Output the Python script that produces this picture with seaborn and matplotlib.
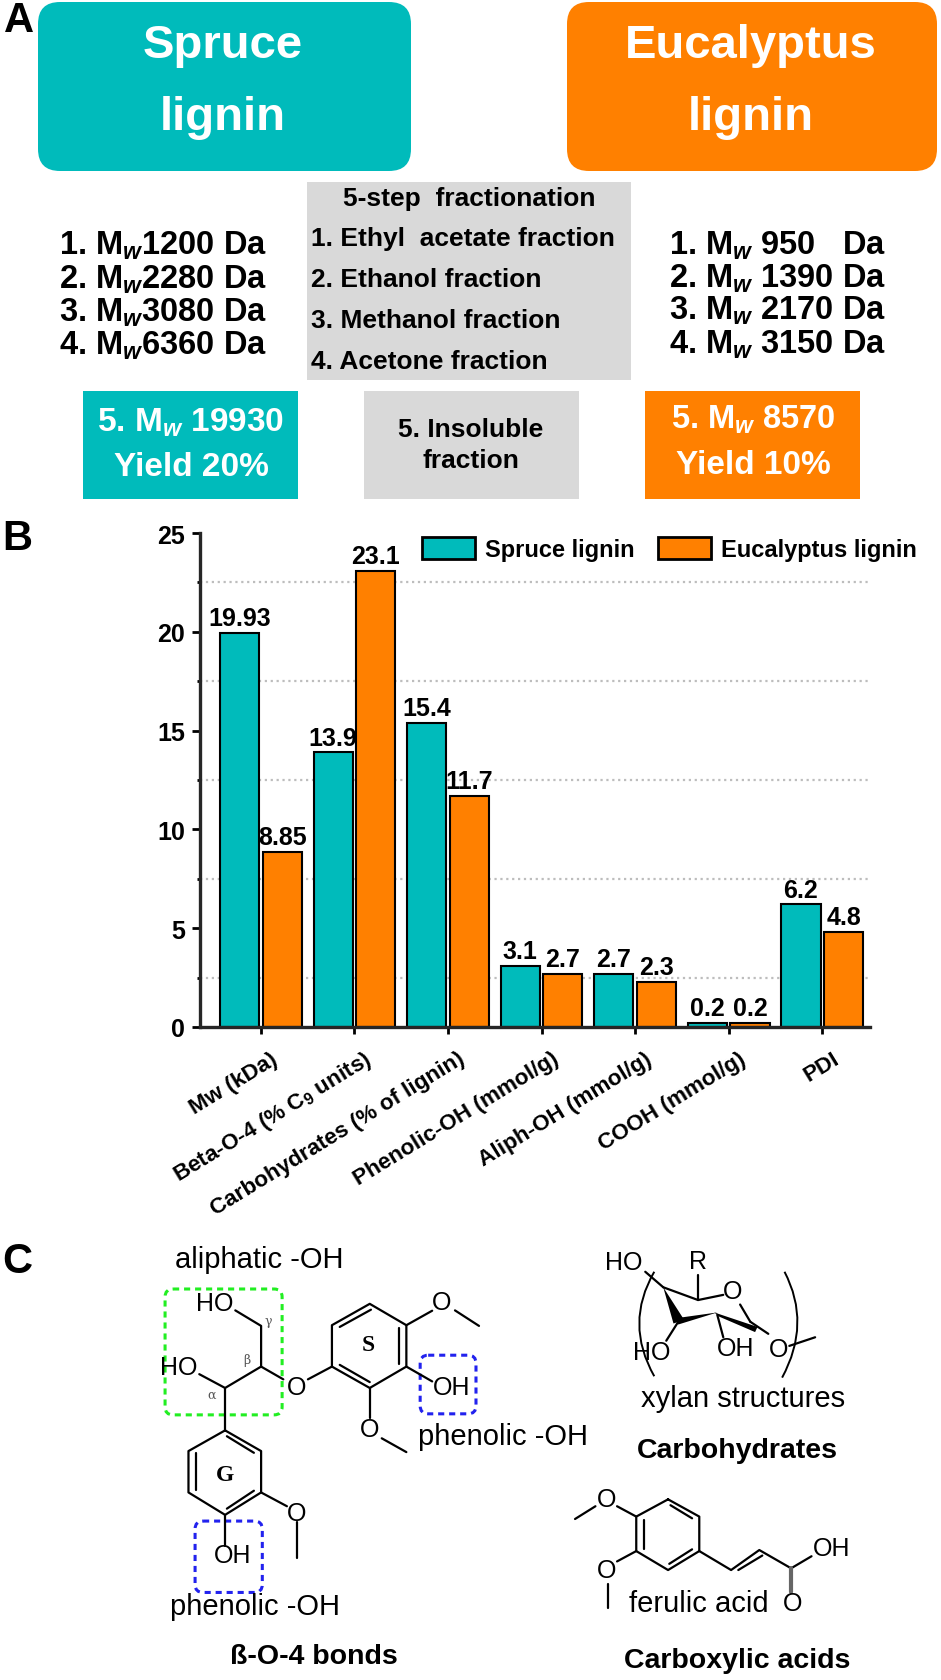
import matplotlib
matplotlib.use('Agg')
import matplotlib.pyplot as plt
from matplotlib.patches import FancyBboxPatch, Rectangle, PathPatch, Polygon
from matplotlib.path import Path
from matplotlib.ticker import MultipleLocator
from matplotlib.transforms import ScaledTranslation
import pandas as pd
import seaborn as sns

# bar chart values (panel B)
properties = ['Mw (kDa)', 'Beta-O-4 (% C$_{9}$ units)', 'Carbohydrates (% of lignin)',
              'Phenolic-OH (mmol/g)', 'Aliph-OH (mmol/g)', 'COOH (mmol/g)', 'PDI']
spruce = [19.93, 13.9, 15.4, 3.1, 2.7, 0.2, 6.2]
eucalyptus = [8.85, 23.1, 11.7, 2.7, 2.3, 0.2, 4.8]
series_names = ['Spruce lignin', 'Eucalyptus lignin']

# panel A texts
spruce_fractions = ['1200', '2280', '3080', '6360']
euca_fractions = ['950  ', '1390', '2170', '3150']
solvents = ['1. Ethyl  acetate fraction', '2. Ethanol fraction', '3. Methanol fraction', '4. Acetone fraction']

TEAL = '#00BBBB'
ORANGE = '#FF8000'
GRAY = '#D9D9D9'

sns.set_theme(style='ticks')
plt.rcParams['font.family'] = ['Liberation Sans', 'DejaVu Sans']
plt.rcParams['mathtext.fontset'] = 'custom'
plt.rcParams['mathtext.rm'] = 'Liberation Sans:bold'
plt.rcParams['mathtext.it'] = 'Liberation Sans:italic:bold'
plt.rcParams['mathtext.bf'] = 'Liberation Sans:bold'
plt.rcParams['mathtext.default'] = 'rm'
# set_theme makes text dark gray, the figure has it black
for key in ['text.color', 'axes.labelcolor', 'xtick.color', 'ytick.color']:
    plt.rcParams[key] = 'black'

fig = plt.figure(figsize=(9.41, 16.81), dpi=100)

# overlay in pixel coordinates for the scheme parts
bg = fig.add_axes([0, 0, 1, 1])
bg.set_xlim(0, 941)
bg.set_ylim(1681, 0)
bg.axis('off')

def label(x, y, s, size=18, weight='bold', color='black', ha='center', **kw):
    bg.text(x, y, s, fontsize=size, fontweight=weight, color=color, ha=ha, va='center', **kw)

def round_box(x0, x1, y0, y1, color):
    r = 22
    bg.add_patch(FancyBboxPatch((x0 + r, y0 + r), x1 - x0 - 2 * r, y1 - y0 - 2 * r,
                                boxstyle='round,pad=%d,rounding_size=%d' % (r, r), fc=color, ec='none'))

def w_label(n, rest):
    return n + '. M$_{\\mathit{w}}$' + rest

# ---- panel A ----
label(19, 21, 'A', size=30)
label(17, 539, 'B', size=30)
label(17, 1262, 'C', size=30)

round_box(38, 411, 3, 172, TEAL)
round_box(567, 937, 3, 172, ORANGE)
label(223, 46, 'Spruce', size=34, color='white')
label(223, 118, 'lignin', size=34, color='white')
label(751, 46, 'Eucalyptus', size=34, color='white')
label(751, 118, 'lignin', size=34, color='white')

bg.add_patch(Rectangle((307, 183), 324, 198, fc=GRAY, ec='none'))
label(469, 199, '5-step  fractionation', size=19)
for y, s in zip([239, 280, 321, 362], solvents):
    label(311, y, s, size=19, ha='left')

for y, s, n in zip([246, 280, 313, 346], spruce_fractions, '1234'):
    label(59, y, w_label(n, s + ' Da'), size=23.5, ha='left')
for y, s, n in zip([246, 279, 311, 345], euca_fractions, '1234'):
    label(669, y, w_label(n, ' ' + s + ' Da'), size=23.5, ha='left')

bg.add_patch(Rectangle((83, 392), 215, 108, fc=TEAL, ec='none'))
bg.add_patch(Rectangle((364, 392), 215, 108, fc=GRAY, ec='none'))
bg.add_patch(Rectangle((645, 392), 215, 108, fc=ORANGE, ec='none'))
label(191, 423, w_label('5', ' 19930'), size=24, color='white')
label(191, 468, 'Yield 20%', size=24, color='white')
label(471, 430, '5. Insoluble', size=19)
label(471, 461, 'fraction', size=19)
label(753, 420, w_label('5', ' 8570'), size=23.5, color='white')
label(753, 466, 'Yield 10%', size=24, color='white')

# ---- panel B ----
ax = fig.add_axes([200 / 941, 1 - 1028 / 1681, 670 / 941, 494 / 1681])
ax.patch.set_alpha(0)
df = pd.DataFrame({'Property': properties * 2,
                   'Value': spruce + eucalyptus,
                   'Lignin': [series_names[0]] * 7 + [series_names[1]] * 7})
sns.barplot(data=df, x='Property', y='Value', hue='Lignin', hue_order=series_names,
            palette=[TEAL, ORANGE], width=0.91, gap=0.08, saturation=1,
            edgecolor='black', linewidth=1.5, ax=ax)
ax.set_xlim(-0.65, 6.51)
ax.set_ylim(0, 25)
ax.set_xlabel('')
ax.set_ylabel('')
ax.yaxis.set_major_locator(MultipleLocator(5))
ax.yaxis.set_minor_locator(MultipleLocator(2.5))
ax.yaxis.grid(True, which='minor', linestyle=':', color='#BDBDBD', linewidth=1.6)
ax.yaxis.grid(False, which='major')
ax.set_axisbelow(True)
sns.despine(ax=ax)
for side in ['left', 'bottom']:
    ax.spines[side].set_linewidth(2.4)
ax.tick_params(axis='y', which='major', length=5.8, width=2, labelsize=18, pad=5)
ax.tick_params(axis='y', which='minor', length=2.2, width=2)
ax.tick_params(axis='x', length=5, width=2, labelsize=16.2, pad=20)
shift = ScaledTranslation(18 / 100, 0, fig.dpi_scale_trans)
for t in ax.get_yticklabels():
    t.set_fontweight('bold')
for t in ax.get_xticklabels():
    t.set_fontweight('bold')
    t.set_rotation(31.5)
    t.set_ha('right')
    t.set_va('baseline')
    t.set_rotation_mode('anchor')
    t.set_transform(t.get_transform() + shift)

for cont, vals in zip(ax.containers, [spruce, eucalyptus]):
    ax.bar_label(cont, labels=['%g' % v for v in vals], fontsize=18, fontweight='bold', padding=2)

handles, labels = ax.get_legend_handles_labels()
leg = ax.legend(handles, labels, ncol=2, frameon=False, loc='center left',
                bbox_to_anchor=(0.331, 0.9676), borderpad=0, borderaxespad=0,
                prop={'size': 17, 'weight': 'bold'}, handlelength=2.25, handleheight=1.1,
                handletextpad=0.42, columnspacing=1.0)
for h in leg.legend_handles:
    h.set_edgecolor('black')
    h.set_linewidth(2)

# ---- panel C ----
# structures are traced in a stretched grid, X/1.666 and 1140+Y/2.9 gives pixels
def z(X, Y):
    return X / 1.666, 1140 + Y / 2.9

def bonds(*pts, lw=1.6, color='black'):
    xs, ys = zip(*[z(*p) for p in pts])
    bg.plot(xs, ys, color=color, lw=lw, solid_capstyle='round')

def atom(X, Y, s, size=18, weight='normal', color='black', **kw):
    x, y = z(X, Y)
    bg.text(x, y, s, fontsize=size, fontweight=weight, color=color, ha='center', va='center', **kw)

def dashed_box(X0, X1, Y0, Y1, color):
    x0, y0 = z(X0, Y0)
    x1, y1 = z(X1, Y1)
    r = 8
    bg.add_patch(FancyBboxPatch((x0 + r, y0 + r), x1 - x0 - 2 * r, y1 - y0 - 2 * r,
                                boxstyle='round,pad=%d,rounding_size=%d' % (r, r),
                                fc='none', ec=color, lw=2.2, ls=(0, (2, 1.6))))

# beta-O-4 unit
bonds((392, 497), (435, 542), (435, 660), (375, 722), (332, 682))
bonds((435, 660), (472, 697))
bonds((513, 697), (553, 660))
bonds((375, 722), (375, 845))
# S ring
bonds((553, 660), (553, 540), (616, 478), (677, 540), (677, 660), (616, 722), (553, 660))
bonds((566, 545), (618, 495))
bonds((664, 548), (664, 652))
bonds((566, 655), (616, 705))
bonds((677, 540), (720, 498))
bonds((758, 497), (798, 542))
bonds((677, 660), (720, 703))
bonds((616, 722), (616, 808))
bonds((636, 868), (677, 908))
# G ring
bonds((375, 845), (435, 905), (435, 1025), (375, 1090), (314, 1025), (314, 905), (375, 845))
bonds((378, 862), (423, 910))
bonds((327, 912), (327, 1018))
bonds((423, 1020), (378, 1072))
bonds((435, 1025), (478, 1065))
bonds((495, 1112), (495, 1215))
bonds((375, 1090), (375, 1180))

atom(358, 475, 'HO')
atom(298, 660, 'HO')
atom(494, 718, 'O')
atom(736, 473, 'O')
atom(752, 718, 'OH')
atom(615, 840, 'O')
atom(494, 1085, 'O')
atom(388, 1205, 'OH')
atom(614, 595, 'S', size=17, weight='bold', family='Liberation Serif')
atom(375, 972, 'G', size=17, weight='bold', family='Liberation Serif')
atom(447, 527, '\u03b3', size=9, color='#555555', family='DejaVu Serif')
atom(411, 640, '\u03b2', size=9, color='#555555', family='DejaVu Serif')
atom(352, 740, '\u03b1', size=9, color='#555555', family='DejaVu Serif')

dashed_box(275, 470, 435, 800, '#22EE22')
dashed_box(700, 793, 627, 797, '#2222EE')
dashed_box(325, 437, 1108, 1315, '#2222EE')

atom(432, 348, 'aliphatic -OH', size=21)
atom(838, 862, 'phenolic -OH', size=21)
atom(425, 1355, 'phenolic -OH', size=21)
atom(523, 1500, '\u00df-O-4 bonds', size=20.5, weight='bold')

# xylan
bonds((1105, 430), (1163, 467), (1205, 452))
bonds((1163, 395), (1163, 467))
bonds((1233, 480), (1250, 530))
bonds((1250, 530), (1280, 565))
bonds((1315, 600), (1358, 575))
bonds((1075, 385), (1105, 430))
bonds((1130, 530), (1110, 585))
bonds((1195, 510), (1205, 575))
for tri in [[(1105, 430), (1122, 535), (1140, 525)],
            [(1125, 520), (1130, 538), (1195, 503)],
            [(1190, 503), (1198, 515), (1258, 560), (1262, 545)]]:
    bg.add_patch(Polygon([z(*p) for p in tri], closed=True, fc='black', ec='none'))
for pts in [[(1090, 385), (1040, 535), (1090, 688)], [(1307, 385), (1352, 535), (1303, 692)]]:
    verts = [z(*p) for p in pts]
    bg.add_patch(PathPatch(Path(verts, [Path.MOVETO, Path.CURVE3, Path.CURVE3]), fc='none', ec='black', lw=1.4))
atom(1040, 358, 'HO')
atom(1163, 355, 'R')
atom(1220, 440, 'O')
atom(1085, 617, 'HO')
atom(1225, 605, 'OH')
atom(1297, 610, 'O')
atom(1238, 750, 'xylan structures', size=21)
atom(1228, 902, 'Carbohydrates', size=20.5, weight='bold')

# ferulic acid
bonds((1113, 1045), (1165, 1095), (1165, 1195), (1113, 1250), (1060, 1195), (1060, 1095), (1113, 1045))
bonds((1117, 1062), (1153, 1100))
bonds((1153, 1190), (1115, 1232))
bonds((1073, 1105), (1073, 1188))
bonds((1060, 1095), (1028, 1065))
bonds((992, 1065), (958, 1102))
bonds((1060, 1195), (1028, 1225))
bonds((1013, 1290), (1013, 1360))
bonds((1165, 1195), (1218, 1250), (1265, 1192), (1318, 1245), (1352, 1210))
bonds((1230, 1250), (1270, 1208))
bonds((1318, 1245), (1318, 1315), lw=3, color='#666666')
atom(1010, 1045, 'O')
atom(1010, 1250, 'O')
atom(1385, 1187, 'OH')
atom(1320, 1345, 'O')
atom(1165, 1347, 'ferulic acid', size=21)
atom(1228, 1510, 'Carboxylic acids', size=20.5, weight='bold')

fig.savefig('out.png', dpi=100)
